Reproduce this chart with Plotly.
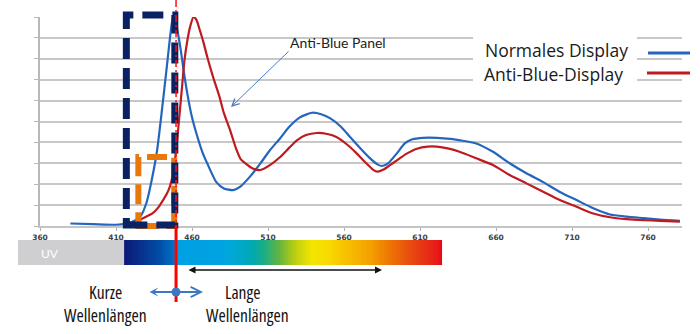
import plotly.graph_objects as go
import numpy as np

# ---------------- data ----------------
wl_normal = [380, 395, 410, 416, 421, 426, 430, 433.5, 437, 440, 443.4, 446, 447.5, 449, 452, 455, 457,
             460, 463, 467, 470, 476, 481, 487, 492, 498, 505, 511, 518, 524, 531, 539, 545, 551, 558,
             564, 571, 577, 582, 585, 589, 595, 600, 605, 612, 621, 630, 638, 647, 658, 669, 680, 691,
             702, 713, 724, 735, 746, 757, 768, 781]
val_normal = [0.12, 0.09, 0.06, 0.1, 0.22, 0.45, 1.1, 2.2, 3.6, 5.4, 7.6, 9.3, 10.0, 9.8, 8.7, 7.2, 6.3,
              5.2, 4.4, 3.5, 3.0, 2.1, 1.8, 1.72, 1.9, 2.35, 3.0, 3.6, 4.2, 4.75, 5.2, 5.42, 5.35, 5.15, 4.75,
              4.26, 3.7, 3.25, 2.95, 2.87, 3.0, 3.5, 3.95, 4.15, 4.22, 4.22, 4.17, 4.08, 3.95, 3.55, 3.0, 2.52, 2.1,
              1.63, 1.24, 0.85, 0.55, 0.45, 0.38, 0.31, 0.25]

wl_anti = [418, 421, 426, 430, 434, 438, 441, 443.5, 445.5, 447.5, 449, 450.5, 452, 453.5, 455, 457, 459,
           461, 463, 465, 467.5, 470, 474, 478, 481, 485, 489, 492, 496, 500, 505, 511, 518, 524, 529, 535,
           542, 549, 555, 562, 568, 574, 579, 582, 586, 590, 595, 601, 608, 615, 621, 629, 636, 647, 658,
           669, 680, 691, 702, 713, 724, 735, 746, 757, 768, 781]
val_anti = [0.05, 0.15, 0.3, 0.45, 0.6, 0.9, 1.24, 1.55, 1.9, 2.5, 3.3, 4.3, 5.5, 6.7, 7.9, 8.9, 9.6,
            10.0, 9.85, 9.4, 8.8, 8.1, 7.1, 6.2, 5.4, 4.6, 3.7, 3.2, 2.95, 2.75, 2.68, 2.9, 3.3, 3.75, 4.1, 4.35,
            4.45, 4.4, 4.26, 3.9, 3.5, 3.05, 2.7, 2.6, 2.7, 2.9, 3.15, 3.45, 3.7, 3.8, 3.8, 3.7, 3.55, 3.24, 2.92,
            2.44, 2.04, 1.64, 1.24, 0.92, 0.6, 0.42, 0.33, 0.28, 0.25, 0.21]

x_tick_vals = [360, 410, 460, 510, 560, 610, 660, 710, 760]
series_names = ["Normales Display", "Anti-Blue-Display"]

uv_band = [345.5, 415.3]
spectrum_band = [415.3, 624.5]
spectrum_stops = [0.0, 0.113, 0.154, 0.164, 0.296, 0.333, 0.396, 0.437, 0.481, 0.531, 0.585,
                  0.638, 0.689, 0.774, 0.827, 0.899, 0.984, 1.0]
spectrum_colors = ["#0c1a78", "#0050a8", "#0070c8", "#00a0e4", "#00a2e2", "#00a8da", "#00a8b8",
                   "#1aae88", "#5cb448", "#b4cc14", "#f2e600", "#f8dc00", "#f8c400", "#f4a000",
                   "#ee7a04", "#e84c10", "#e81a18", "#e8001a"]

marker_nm = 449.5          # red dividing line
box_blue = [416.8, 448.7, 0.05, 10.1]   # nm0, nm1, v0, v1
box_orange = [424.7, 448.3, 0.0, 3.3]

# ---------------- geometry ----------------
W, H = 700, 334
M = dict(l=10, r=10, t=17, b=60)
PW, PH = W - M['l'] - M['r'], H - M['t'] - M['b']
AX_L, AX_R, AX_T, AX_B = 40, 682, 17, 226
NM_PX = 1.52
Y_PX = (AX_B - AX_T) / 10.0


def nmpx(nm):
    return AX_L + (nm - 360) * NM_PX


def vpx(v):
    return AX_B - v * Y_PX


def fx(px):
    return (px - M['l']) / PW


def fy(py):
    return (H - M['b'] - py) / PH


x_max = 360 + (AX_R - AX_L) / NM_PX
x2_min = 360 - (AX_L - M['l']) / NM_PX
x2_max = 360 + (W - M['r'] - AX_L) / NM_PX

BLUE = "#2466bd"
RED = "#be1b20"

fig = go.Figure()

fig.add_trace(go.Scatter(x=wl_normal, y=val_normal, mode="lines", name=series_names[0],
                         line=dict(color=BLUE, width=2.2, shape="spline", smoothing=0.6),
                         cliponaxis=False, showlegend=False, hoverinfo="skip"))
fig.add_trace(go.Scatter(x=wl_anti, y=val_anti, mode="lines", name=series_names[1],
                         line=dict(color=RED, width=2.2, shape="spline", smoothing=0.6),
                         cliponaxis=False, showlegend=False, hoverinfo="skip"))

n = 220
edges = np.linspace(spectrum_band[0], spectrum_band[1], n + 1)
zrow = (edges[:-1] + edges[1:]) / 2
zrow = (zrow - spectrum_band[0]) / (spectrum_band[1] - spectrum_band[0])
cs = [[s, c] for s, c in zip(spectrum_stops, spectrum_colors)]
fig.add_trace(go.Heatmap(x=edges, y=[0, 1], z=[zrow], colorscale=cs, zmin=0, zmax=1,
                         showscale=False, xaxis="x2", yaxis="y2", hoverinfo="skip", zsmooth="best"))
fig.add_trace(go.Bar(x=[uv_band[1] - uv_band[0]], base=[uv_band[0]], y=[0.5], width=[1],
                     orientation="h", marker=dict(color="#cfcfd1", line=dict(width=0)),
                     xaxis="x2", yaxis="y2", showlegend=False, hoverinfo="skip"))

shapes = []
shapes.append(dict(type="rect", xref="paper", yref="paper", x0=fx(473), x1=fx(637), y0=fy(88), y1=fy(29),
                   fillcolor="white", line=dict(width=0), layer="above"))
shapes.append(dict(type="rect", xref="paper", yref="paper",
                   x0=fx(nmpx(box_orange[0])), x1=fx(nmpx(box_orange[1])),
                   y0=fy(vpx(box_orange[2])), y1=fy(vpx(box_orange[3])),
                   line=dict(color="#e8780c", width=6, dash="20px,8px"), layer="above"))
shapes.append(dict(type="rect", xref="paper", yref="paper",
                   x0=fx(nmpx(box_blue[0])), x1=fx(nmpx(box_blue[1])),
                   y0=fy(vpx(box_blue[2])), y1=fy(vpx(box_blue[3])),
                   line=dict(color="#0b2262", width=7, dash="21px,9px"), layer="above"))
mx = fx(nmpx(marker_nm))
shapes.append(dict(type="line", xref="paper", yref="paper", x0=mx, x1=mx, y0=fy(0), y1=fy(AX_B),
                   line=dict(color="#ff1010", width=1.5, dash="7px,3px,2px,3px"), layer="above"))
shapes.append(dict(type="line", xref="paper", yref="paper", x0=mx, x1=mx, y0=fy(AX_B), y1=fy(302),
                   line=dict(color="#ff0000", width=3), layer="above"))
shapes.append(dict(type="line", xref="paper", yref="paper", x0=fx(648), x1=fx(690), y0=fy(53), y1=fy(53),
                   line=dict(color=BLUE, width=3), layer="above"))
shapes.append(dict(type="line", xref="paper", yref="paper", x0=fx(647), x1=fx(690), y0=fy(73), y1=fy(73),
                   line=dict(color=RED, width=3), layer="above"))
shapes.append(dict(type="circle", xref="paper", yref="paper", x0=fx(171.5), x1=fx(180.5), y0=fy(296.5),
                   y1=fy(287.5), fillcolor="#3c78c0", line=dict(width=0), layer="above"))


def label(txt, cx, cy, font):
    return dict(text=txt, xref="paper", yref="paper", x=fx(cx), y=fy(cy), showarrow=False,
                xanchor="center", yanchor="middle", font=font)


def arrow(x_tip, y_tip, x_tail, y_tail, **kw):
    d = dict(text="", xref="paper", yref="paper", x=fx(x_tip), y=fy(y_tip), ax=x_tail - x_tip,
             ay=y_tail - y_tip, axref="pixel", ayref="pixel", showarrow=True, standoff=0, startstandoff=0)
    d.update(kw)
    return d


annotations = []
legend_font = dict(family="Open Sans", size=17.5, color="#1a1a1a")
annotations.append(label(series_names[0], 556.5, 50, legend_font))
annotations.append(label(series_names[1], 553.5, 74, legend_font))
annotations.append(label("Anti-Blue Panel", 337.5, 43, dict(family="Lato", size=14, color="#222222")))
annotations.append(arrow(231, 107, 290, 50, arrowhead=5, arrowsize=1.4, arrowwidth=1, arrowcolor="#4a7ec4"))
annotations.append(arrow(382, 270, 187, 270, arrowhead=2, startarrowhead=2, arrowside="end+start",
                         arrowsize=1, startarrowsize=1, arrowwidth=1.4, arrowcolor="#111111"))
annotations.append(arrow(203, 292, 148, 292, arrowhead=5, startarrowhead=3, arrowside="end+start",
                         arrowsize=1.0, startarrowsize=0.75, arrowwidth=2, arrowcolor="#3c78c0"))
annotations.append(label("UV", 50, 253, dict(family="Lato", size=12, color="#ffffff")))
cfont = dict(family="Open Sans", size=17.5, color="#111111", weight=500)
for txt, cx, cy in [("Kurze", 105, 292), ("Wellenlängen", 105, 315), ("Lange", 243, 292),
                    ("Wellenlängen", 247, 315)]:
    annotations.append(label('<span style="font-stretch:condensed">%s</span>' % txt, cx, cy, cfont))

fig.update_layout(
    width=W, height=H, margin=dict(M, autoexpand=False), paper_bgcolor="white", plot_bgcolor="white",
    showlegend=False,
    xaxis=dict(domain=[fx(AX_L), fx(AX_R)], range=[360, x_max], tickvals=x_tick_vals,
               ticktext=[str(v) for v in x_tick_vals], showgrid=False, zeroline=False,
               showline=True, linecolor="#c4c4c4", linewidth=2, ticks="outside", ticklen=3,
               tickcolor="#b0b0b0", tickwidth=1, automargin=False,
               tickfont=dict(family="DejaVu Sans", size=7.5, color="#404040", weight="bold"),
               anchor="y", fixedrange=True),
    yaxis=dict(domain=[fy(AX_B), fy(AX_T)], range=[0, 10], dtick=1, tick0=0, showgrid=True,
               gridcolor="#c8c8c8", gridwidth=1.5, zeroline=False, showline=True, linecolor="#b8b8b8",
               linewidth=1.5, ticks="outside", ticklen=4, tickcolor="#b8b8b8", showticklabels=False,
               automargin=False, anchor="x", fixedrange=True),
    xaxis2=dict(domain=[0, 1], range=[x2_min, x2_max], visible=False, anchor="y2", fixedrange=True,
                automargin=False),
    yaxis2=dict(domain=[fy(265), fy(240)], range=[0, 1], visible=False, anchor="x2", fixedrange=True,
                automargin=False),
    shapes=shapes, annotations=annotations,
)

fig.write_html("out.html")
